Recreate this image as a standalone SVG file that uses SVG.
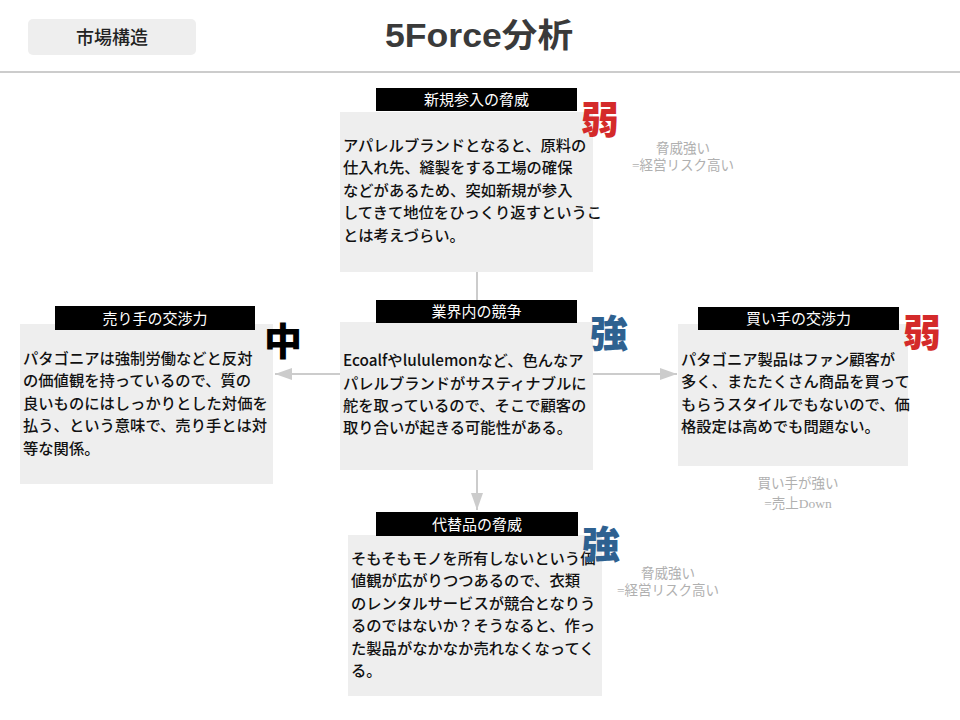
<svg xmlns="http://www.w3.org/2000/svg" width="960" height="720" viewBox="0 0 960 720">
<style>
.body{font-family:"Noto Sans CJK JP","Noto Sans",sans-serif;font-size:15.3px;font-weight:500;fill:#111}
.lbl{fill:#000}
.lblt{font-family:"Noto Sans CJK JP",sans-serif;font-size:15px;fill:#fff;text-anchor:middle}
.box{fill:#eeeeee}
.big{font-family:"Noto Sans CJK JP",sans-serif;font-size:38px;font-weight:900;text-anchor:middle}
.note{font-family:"Liberation Serif","Noto Sans CJK JP",serif;font-size:13.5px;fill:#b0b0b0;text-anchor:middle}
.conn{stroke:#cccccc;stroke-width:2;fill:none}
</style>
<defs>
<marker id="ah2" markerWidth="17" markerHeight="12" refX="17" refY="6" orient="auto" markerUnits="userSpaceOnUse" viewBox="0 0 17 12">
<path d="M0,0 L17,6 L0,12 Z" fill="#cccccc"/>
</marker>
</defs>
<rect width="960" height="720" fill="#ffffff"/>
<g id="header">
<rect x="28" y="19" width="168" height="36" rx="5" fill="#eeeeee"/>
<text x="112" y="44" font-family="Noto Sans CJK JP,sans-serif" font-size="18" font-weight="500" fill="#222" text-anchor="middle">市場構造</text>
<text x="479" y="47" font-family="Liberation Sans,Noto Sans CJK JP,sans-serif" font-size="33" font-weight="bold" fill="#3a3a3a" text-anchor="middle" textLength="188" lengthAdjust="spacingAndGlyphs">5Force分析</text>
<rect x="0" y="71" width="960" height="2" fill="#cccccc"/>
</g>
<g id="connectors">
<line class="conn" x1="477" y1="272" x2="477" y2="300"/>
<line class="conn" x1="340" y1="374" x2="275" y2="374" marker-end="url(#ah2)"/>
<line class="conn" x1="593" y1="374" x2="677" y2="374" marker-end="url(#ah2)"/>
<line class="conn" x1="477" y1="470" x2="477" y2="510" marker-end="url(#ah2)"/>
</g>
<g id="node-new-entrants">
<rect class="box" x="340" y="112" width="253" height="160"/>
<rect class="lbl" x="376" y="88" width="201" height="23"/>
<text class="lblt" x="476.5" y="105">新規参入の脅威</text>
<text class="body"><tspan x="343" y="150.5">アパレルブランドとなると、原料の</tspan><tspan x="343" y="173">仕入れ先、縫製をする工場の確保</tspan><tspan x="343" y="195.5">などがあるため、突如新規が参入</tspan><tspan x="343" y="218">してきて地位をひっくり返すというこ</tspan><tspan x="343" y="240.5">とは考えづらい。</tspan></text>
<text class="big" x="600" y="133" fill="#d42a2a">弱</text>
<text class="note"><tspan x="683" y="153">脅威強い</tspan><tspan x="683" y="170">=経営リスク高い</tspan></text>
</g>
<g id="node-rivalry">
<rect class="box" x="340" y="322" width="253" height="148"/>
<rect class="lbl" x="376" y="300" width="201" height="23"/>
<text class="lblt" x="476.5" y="317">業界内の競争</text>
<text class="body"><tspan x="343" y="366">Ecoalfやlululemonなど、色んなア</tspan><tspan x="343" y="388.5">パレルブランドがサスティナブルに</tspan><tspan x="343" y="411">舵を取っているので、そこで顧客の</tspan><tspan x="343" y="433">取り合いが起きる可能性がある。</tspan></text>
<text class="big" x="609" y="347" fill="#2e6190">強</text>
</g>
<g id="node-suppliers">
<rect class="box" x="20" y="324" width="253" height="160"/>
<rect class="lbl" x="55" y="306" width="200" height="24"/>
<text class="lblt" x="155" y="323.5">売り手の交渉力</text>
<text class="body"><tspan x="23" y="363.5">パタゴニアは強制労働などと反対</tspan><tspan x="23" y="386">の価値観を持っているので、質の</tspan><tspan x="23" y="408.5">良いものにはしっかりとした対価を</tspan><tspan x="23" y="431">払う、という意味で、売り手とは対</tspan><tspan x="23" y="453.5">等な関係。</tspan></text>
<text class="big" x="283" y="355" fill="#000">中</text>
</g>
<g id="node-buyers">
<rect class="box" x="678" y="324" width="230" height="142"/>
<rect class="lbl" x="698" y="307" width="201" height="23"/>
<text class="lblt" x="798.5" y="324">買い手の交渉力</text>
<text class="body"><tspan x="681" y="364.5">パタゴニア製品はファン顧客が</tspan><tspan x="681" y="387">多く、またたくさん商品を買って</tspan><tspan x="681" y="409.5">もらうスタイルでもないので、価</tspan><tspan x="681" y="432">格設定は高めでも問題ない。</tspan></text>
<text class="big" x="922" y="346" fill="#d42a2a">弱</text>
<text class="note"><tspan x="798" y="488">買い手が強い</tspan><tspan x="798" y="508">=売上Down</tspan></text>
</g>
<g id="node-substitutes">
<rect class="box" x="348" y="535" width="254" height="161"/>
<rect class="lbl" x="376" y="512" width="202" height="24"/>
<text class="lblt" x="477" y="529.5">代替品の脅威</text>
<text class="body"><tspan x="351" y="563.5">そもそもモノを所有しないという価</tspan><tspan x="351" y="586">値観が広がりつつあるので、衣類</tspan><tspan x="351" y="608.5">のレンタルサービスが競合となりう</tspan><tspan x="351" y="631">るのではないか？そうなると、作っ</tspan><tspan x="351" y="653.5">た製品がなかなか売れなくなってく</tspan><tspan x="351" y="676">る。</tspan></text>
<text class="big" x="601" y="558" fill="#2e6190">強</text>
<text class="note"><tspan x="668" y="578">脅威強い</tspan><tspan x="668" y="595">=経営リスク高い</tspan></text>
</g>
</svg>
